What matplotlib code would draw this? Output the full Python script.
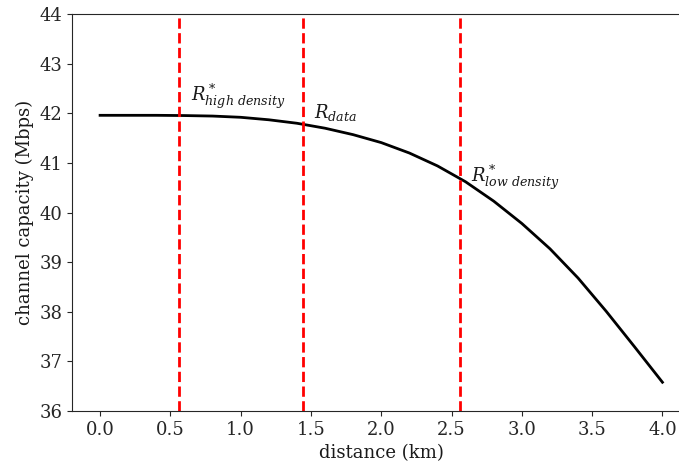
import numpy as np
import matplotlib.pyplot as plt

# distance (km) vs channel capacity (Mbps)
distance = [0.0, 0.2, 0.4, 0.6, 0.8, 1.0, 1.2, 1.4, 1.6, 1.8, 2.0,
            2.2, 2.4, 2.6, 2.8, 3.0, 3.2, 3.4, 3.6, 3.8, 4.0]
capacity = [41.96, 41.96, 41.96, 41.955, 41.945, 41.92, 41.87, 41.80, 41.70,
            41.57, 41.41, 41.20, 40.94, 40.62, 40.23, 39.78, 39.27, 38.68,
            38.01, 37.30, 36.58]

# vertical marker positions (km)
r_high = 0.56
r_data = 1.44
r_low = 2.56

plt.rcParams['font.family'] = 'DejaVu Serif'
plt.rcParams['mathtext.fontset'] = 'dejavuserif'
plt.rcParams['font.size'] = 13
plt.rcParams['axes.edgecolor'] = '0.15'
plt.rcParams['xtick.color'] = '0.15'
plt.rcParams['ytick.color'] = '0.15'
plt.rcParams['text.color'] = '0.1'
plt.rcParams['axes.labelcolor'] = '0.1'

fig = plt.figure(figsize=(6.79, 4.7), dpi=100)
ax = fig.add_axes([0.106, 0.1255, 0.911, 0.8445])

ax.plot(distance, capacity, color='black', lw=2)
for xv in (r_high, r_data, r_low):
    ax.axvline(xv, color='red', ls='--', lw=2)

ax.text(0.65, 42.26, r'$R^*_{high\ density}$', fontsize=13)
ax.text(1.52, 41.91, r'$R_{data}$', fontsize=13)
ax.text(2.64, 40.61, r'$R^*_{low\ density}$', fontsize=13)

ax.spines['right'].set_visible(False)
ax.set_xlim(-0.2, 4.2)
ax.set_ylim(36, 44)
ax.set_xticks(np.arange(0, 4.01, 0.5))
ax.set_xlabel('distance (km)')
ax.set_ylabel('channel capacity (Mbps)')

fig.savefig('out.png', dpi=100)
